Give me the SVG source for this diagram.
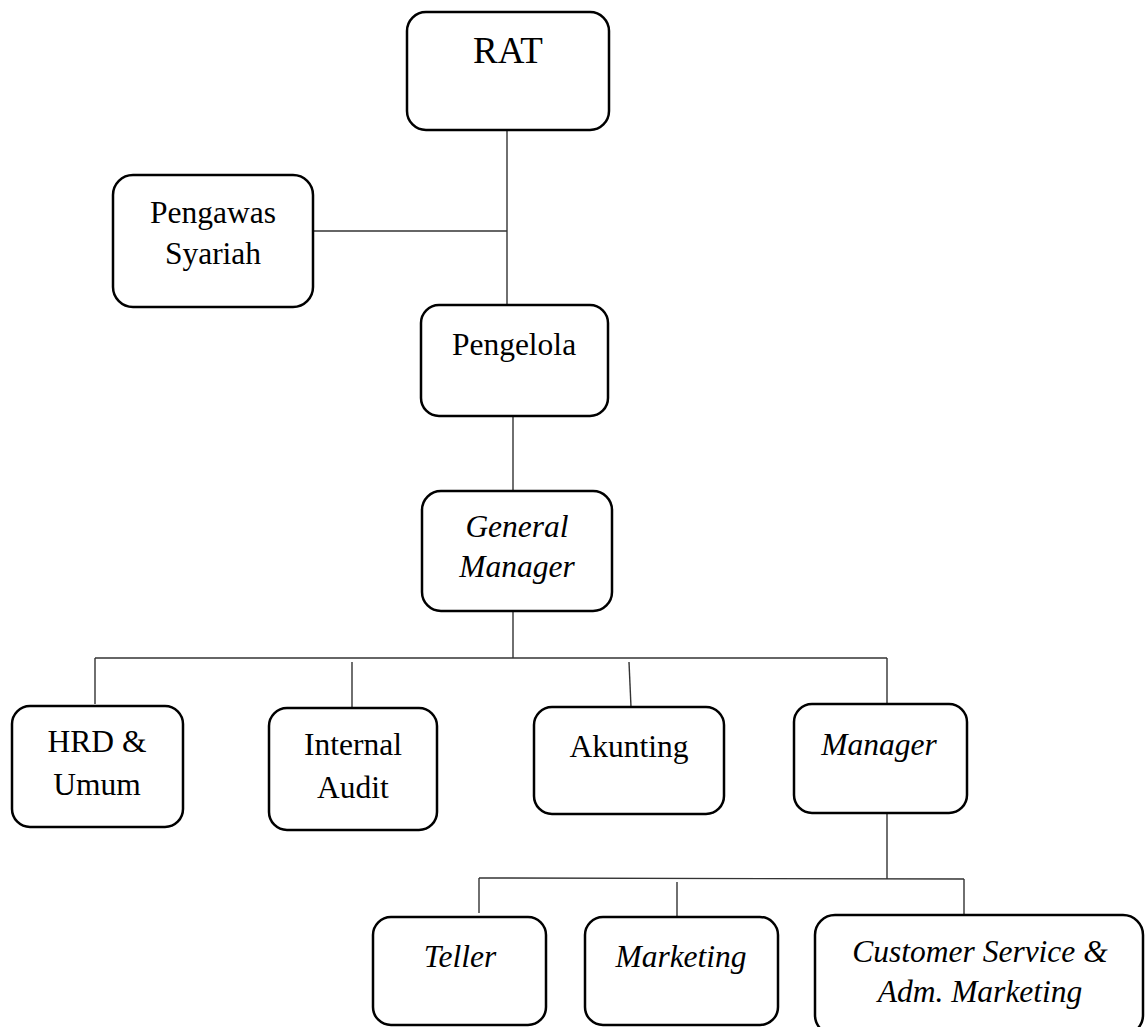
<svg xmlns="http://www.w3.org/2000/svg" width="1147" height="1027" viewBox="0 0 1147 1027">
<style>
.box{fill:#fff;stroke:#000;stroke-width:2.5}
.t{font-family:"Liberation Serif","Times New Roman",serif;font-size:31.5px;fill:#000;text-anchor:middle}
.i{font-style:italic}
.c{stroke:#333;stroke-width:1.4;fill:none}
</style>
<rect width="1147" height="1027" fill="#fff"/>
<g id="connectors">
<line class="c" x1="507" y1="130" x2="507" y2="305"/>
<line class="c" x1="313" y1="231" x2="507" y2="231"/>
<line class="c" x1="513" y1="416" x2="513" y2="491"/>
<line class="c" x1="513" y1="611" x2="513" y2="658"/>
<line class="c" x1="95" y1="658" x2="887" y2="658"/>
<line class="c" x1="95" y1="658" x2="95" y2="704"/>
<line class="c" x1="352" y1="662" x2="352" y2="708"/>
<line class="c" x1="629" y1="662" x2="631" y2="707"/>
<line class="c" x1="887" y1="658" x2="887" y2="704"/>
<line class="c" x1="887" y1="813" x2="887" y2="879"/>
<line class="c" x1="479" y1="878" x2="964" y2="879"/>
<line class="c" x1="479" y1="878" x2="479" y2="913"/>
<line class="c" x1="677" y1="882" x2="677" y2="917"/>
<line class="c" x1="964" y1="879" x2="964" y2="915"/>
</g>
<g id="rat">
<rect class="box" x="407" y="12" width="202" height="118" rx="19"/>
<text class="t" x="508" y="63" style="font-size:37px">RAT</text>
</g>
<g id="pengawas">
<rect class="box" x="113" y="175" width="200" height="132" rx="20"/>
<text class="t" x="213" y="223">Pengawas</text>
<text class="t" x="213" y="264">Syariah</text>
</g>
<g id="pengelola">
<rect class="box" x="421" y="305" width="187" height="111" rx="18"/>
<text class="t" x="514" y="355">Pengelola</text>
</g>
<g id="gm">
<rect class="box" x="422" y="491" width="190" height="120" rx="19"/>
<text class="t i" x="517" y="537">General</text>
<text class="t i" x="517" y="577">Manager</text>
</g>
<g id="hrd">
<rect class="box" x="12" y="706" width="171" height="121" rx="18"/>
<text class="t" x="97" y="752">HRD &amp;</text>
<text class="t" x="97" y="795">Umum</text>
</g>
<g id="audit">
<rect class="box" x="269" y="708" width="168" height="122" rx="18"/>
<text class="t" x="353" y="755">Internal</text>
<text class="t" x="353" y="798">Audit</text>
</g>
<g id="akunting">
<rect class="box" x="534" y="707" width="190" height="107" rx="18"/>
<text class="t" x="629" y="757">Akunting</text>
</g>
<g id="manager">
<rect class="box" x="794" y="704" width="173" height="109" rx="18"/>
<text class="t i" x="879" y="755">Manager</text>
</g>
<g id="teller">
<rect class="box" x="373" y="917" width="173" height="108" rx="18"/>
<text class="t i" x="460" y="967">Teller</text>
</g>
<g id="marketing">
<rect class="box" x="585" y="917" width="193" height="108" rx="18"/>
<text class="t i" x="681" y="967">Marketing</text>
</g>
<g id="cs">
<rect class="box" x="815" y="915" width="328" height="120" rx="20"/>
<text class="t i" x="980" y="962">Customer Service &amp;</text>
<text class="t i" x="980" y="1002">Adm. Marketing</text>
</g>
</svg>
